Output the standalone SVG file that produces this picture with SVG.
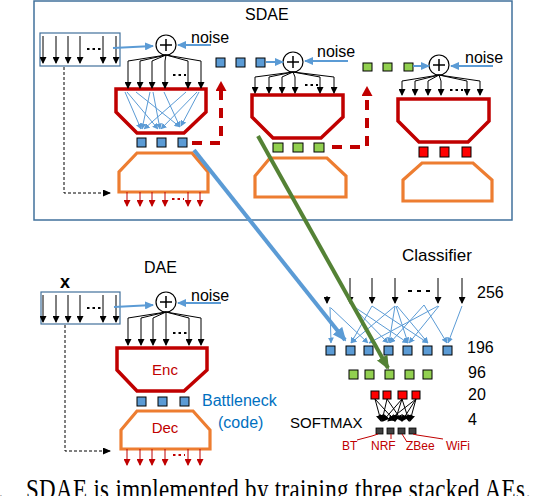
<svg xmlns="http://www.w3.org/2000/svg" width="536" height="496" viewBox="0 0 536 496">
<style>
text{font-family:"Liberation Sans",Arial,sans-serif;fill:#000}
.lbl{font-size:16px}
.enc{fill:none;stroke:#C00000;stroke-width:3.5;stroke-linejoin:miter}
.dec{fill:none;stroke:#ED7D31;stroke-width:3.2}
.sq-b{fill:#5B9BD5;stroke:#000;stroke-width:1}
.sq-g{fill:#92D050;stroke:#000;stroke-width:1}
.sq-r{fill:#FF0000;stroke:#000;stroke-width:1}
.sq-k{fill:#404040;stroke:#000;stroke-width:0.8}
.in{fill:none;stroke:#41719C;stroke-width:1.2}
.ar path,.ar line{stroke:#000;stroke-width:1;fill:none;marker-end:url(#mk)}
.arr line{stroke:#C00000;stroke-width:1;fill:none;marker-end:url(#mr)}
.thin line{stroke:#5B9BD5;stroke-width:1;fill:none;marker-end:url(#mb)}
.na{stroke:#5B9BD5;stroke-width:2;fill:none;marker-end:url(#mbn)}
.sum{fill:#fff;stroke:#000;stroke-width:1.2}
.plus{stroke:#000;stroke-width:1.5}
.dots{stroke:#000;stroke-width:1.8;stroke-dasharray:2.5 3}
.rdots{stroke:#C00000;stroke-width:1.8;stroke-dasharray:2.5 3}
.rdash{fill:none;stroke:#C00000;stroke-width:4;stroke-dasharray:10 8;marker-end:url(#mrd)}
.skip{fill:none;stroke:#000;stroke-width:1;stroke-dasharray:3 2;marker-end:url(#mk2)}
.lead{fill:none;stroke:#C00000;stroke-width:1}
.red{fill:#C00000}
.serif{font-family:"Liberation Serif","Times New Roman",serif}
</style>
<defs>
<marker id="mk" markerUnits="userSpaceOnUse" markerWidth="7" markerHeight="7" refX="6" refY="3.5" orient="auto"><path d="M0,0 L7,3.5 L0,7 Z" fill="#000"/></marker>
<marker id="mk2" markerUnits="userSpaceOnUse" markerWidth="8" markerHeight="7" refX="7" refY="3.5" orient="auto"><path d="M0,0 L8,3.5 L0,7 Z" fill="#000"/></marker>
<marker id="mr" markerUnits="userSpaceOnUse" markerWidth="7" markerHeight="7" refX="6" refY="3.5" orient="auto"><path d="M0,0 L7,3.5 L0,7 Z" fill="#C00000"/></marker>
<marker id="mb" markerUnits="userSpaceOnUse" markerWidth="6" markerHeight="6" refX="5.5" refY="3" orient="auto"><path d="M0,0 L6,3 L0,6 Z" fill="#5B9BD5"/></marker>
<marker id="mbn" markerUnits="userSpaceOnUse" markerWidth="9" markerHeight="8" refX="8" refY="4" orient="auto"><path d="M0,0 L9,4 L0,8 Z" fill="#5B9BD5"/></marker>
<marker id="mrd" markerUnits="userSpaceOnUse" markerWidth="10" markerHeight="11" refX="1" refY="5.5" orient="auto"><path d="M0,0 L10,5.5 L0,11 Z" fill="#C00000"/></marker>
<marker id="mbig" markerUnits="userSpaceOnUse" markerWidth="14" markerHeight="12" refX="12" refY="6" orient="auto"><path d="M0,0 L14,6 L0,12 Z" fill="#5B9BD5"/></marker>
<marker id="mgbig" markerUnits="userSpaceOnUse" markerWidth="14" markerHeight="12" refX="12" refY="6" orient="auto"><path d="M0,0 L14,6 L0,12 Z" fill="#548235"/></marker>
</defs>
<rect width="536" height="496" fill="#fff"/>

<g id="sdae-frame">
<rect x="34" y="1" width="478" height="219" fill="none" stroke="#41719C" stroke-width="1.5"/>
<text class="lbl" x="245" y="20">SDAE</text>
</g>

<!-- AE1 -->
<g id="ae1-input">
<rect class="in" x="40" y="33" width="80" height="33"/>
<g class="ar">
<line x1="43" y1="36" x2="43" y2="63"/><line x1="56" y1="36" x2="56" y2="63"/><line x1="68" y1="36" x2="68" y2="63"/><line x1="80" y1="36" x2="80" y2="63"/><line x1="103" y1="36" x2="103" y2="63"/><line x1="116" y1="36" x2="116" y2="63"/>
</g>
<line class="dots" x1="87" y1="49" x2="101" y2="49"/>
</g>
<g id="ae1-sum">
<circle class="sum" cx="166" cy="45" r="10"/>
<path class="plus" d="M160,45H172M166,39V51"/>
<text class="lbl" x="191" y="43">noise</text>
</g>
<g id="ae1-enc">
<path class="enc" d="M116,89H206V112L184,133H137L116,112Z"/>
</g>
<g id="ae1-code">
<rect class="sq-b" x="137" y="138" width="9" height="9"/>
<rect class="sq-b" x="157" y="138" width="9" height="9"/>
<rect class="sq-b" x="178" y="138" width="9" height="9"/>
</g>
<g id="ae1-dec">
<path class="dec" d="M137,153H192L208,172V192H119V172Z"/>
</g>

<!-- AE2 -->
<g id="ae2-input">
<rect class="sq-b" x="216" y="58" width="9" height="9"/>
<rect class="sq-b" x="236" y="58" width="9" height="9"/>
<rect class="sq-b" x="256" y="58" width="9" height="9"/>
</g>
<g id="ae2-sum">
<circle class="sum" cx="293" cy="62" r="10"/>
<path class="plus" d="M287,62H299M293,56V68"/>
<text class="lbl" x="317" y="57">noise</text>
</g>
<g id="ae2-enc">
<path class="enc" d="M252,95H343V117L321,138H273L252,117Z"/>
</g>
<g id="ae2-code">
<rect class="sq-g" x="273" y="143" width="10" height="9"/>
<rect class="sq-g" x="293" y="143" width="10" height="9"/>
<rect class="sq-g" x="314" y="143" width="10" height="9"/>
</g>
<g id="ae2-dec">
<path class="dec" d="M270,158H327L346,176V197H255V176Z"/>
</g>

<!-- AE3 -->
<g id="ae3-input">
<rect class="sq-g" x="363" y="63" width="9" height="8"/>
<rect class="sq-g" x="383" y="63" width="9" height="8"/>
<rect class="sq-g" x="404" y="63" width="9" height="8"/>
</g>
<g id="ae3-sum">
<circle class="sum" cx="439" cy="65" r="10"/>
<path class="plus" d="M433,65H445M439,59V71"/>
<text class="lbl" x="465" y="63">noise</text>
</g>
<g id="ae3-enc">
<path class="enc" d="M398,99H489V121L468,142H419L398,121Z"/>
</g>
<g id="ae3-code">
<rect class="sq-r" x="419" y="147" width="9" height="10"/>
<rect class="sq-r" x="440" y="147" width="9" height="10"/>
<rect class="sq-r" x="462" y="147" width="9" height="10"/>
</g>
<g id="ae3-dec">
<path class="dec" d="M422,163H473L492,180V201H403V180Z"/>
</g>

<!-- DAE -->
<g id="dae-title"><text class="lbl" x="144" y="273">DAE</text></g>
<g id="dae-input">
<text x="60" y="288" font-size="18" font-weight="bold">x</text>
<rect class="in" x="41" y="292" width="79" height="32"/>
<g class="ar">
<line x1="43" y1="295" x2="43" y2="322"/><line x1="56" y1="295" x2="56" y2="322"/><line x1="68" y1="295" x2="68" y2="322"/><line x1="80" y1="295" x2="80" y2="322"/><line x1="103" y1="295" x2="103" y2="322"/><line x1="116" y1="295" x2="116" y2="322"/>
</g>
<line class="dots" x1="87" y1="308" x2="101" y2="308"/>
</g>
<g id="dae-sum">
<circle class="sum" cx="166" cy="302" r="10"/>
<path class="plus" d="M160,302H172M166,296V308"/>
<text class="lbl" x="191" y="301">noise</text>
</g>
<g id="dae-enc">
<path class="enc" d="M117,348H207V370L184,391H137L117,370Z"/>
<text x="165" y="375" font-size="15" text-anchor="middle" class="red">Enc</text>
</g>
<g id="dae-code">
<rect class="sq-b" x="137" y="397" width="9" height="9"/>
<rect class="sq-b" x="158" y="397" width="9" height="9"/>
<rect class="sq-b" x="180" y="397" width="9" height="9"/>
<text x="202" y="406" font-size="16" style="fill:#0070C0">Battleneck</text>
<text x="218" y="428" font-size="16" style="fill:#0070C0">(code)</text>
</g>
<g id="dae-dec">
<path class="dec" d="M137,411H193L210,430V449H121V430Z"/>
<text x="165" y="433" font-size="15" text-anchor="middle" class="red">Dec</text>
</g>

<!-- Classifier -->
<g id="clf-title"><text x="402" y="261" font-size="17">Classifier</text></g>
<g id="clf-256">
<g class="ar">
<line x1="327" y1="296" x2="327" y2="303"/><line x1="350" y1="278" x2="350" y2="303"/><line x1="372" y1="278" x2="372" y2="303"/><line x1="395" y1="278" x2="395" y2="303"/><line x1="438" y1="278" x2="438" y2="303"/><line x1="462" y1="278" x2="462" y2="303"/>
</g>
<line class="dots" x1="408" y1="291" x2="434" y2="291" style="stroke-width:2.2;stroke-dasharray:4 5"/>
<text class="lbl" x="477" y="298">256</text>
</g>
<g id="clf-196">
<rect class="sq-b" x="326" y="346" width="9" height="9"/>
<rect class="sq-b" x="346" y="346" width="9" height="9"/>
<rect class="sq-b" x="364" y="346" width="9" height="9"/>
<rect class="sq-b" x="384" y="346" width="9" height="9"/>
<rect class="sq-b" x="403" y="346" width="9" height="9"/>
<rect class="sq-b" x="423" y="346" width="9" height="9"/>
<rect class="sq-b" x="443" y="346" width="9" height="9"/>
<text class="lbl" x="467" y="353">196</text>
</g>
<g id="clf-96">
<rect class="sq-g" x="349" y="370" width="9" height="9"/>
<rect class="sq-g" x="365" y="370" width="9" height="9"/>
<rect class="sq-g" x="385" y="370" width="9" height="9"/>
<rect class="sq-g" x="405" y="370" width="9" height="9"/>
<rect class="sq-g" x="423" y="370" width="9" height="9"/>
<text class="lbl" x="468" y="378">96</text>
</g>
<g id="clf-20">
<rect class="sq-r" x="371" y="391" width="8" height="8"/>
<rect class="sq-r" x="383" y="391" width="8" height="8"/>
<rect class="sq-r" x="398" y="391" width="9" height="8"/>
<rect class="sq-r" x="412" y="391" width="8" height="8"/>
<text class="lbl" x="468" y="400">20</text>
</g>
<g id="clf-softmax">
<text x="290" y="428" font-size="15">SOFTMAX</text>
<text class="lbl" x="468" y="425">4</text>
<rect class="sq-k" x="376" y="428" width="7" height="6"/>
<rect class="sq-k" x="387" y="428" width="7" height="6"/>
<rect class="sq-k" x="398" y="428" width="7" height="6"/>
<rect class="sq-k" x="409" y="428" width="7" height="6"/>
</g>
<g id="clf-labels">
<text x="342" y="450" font-size="12" class="red">BT</text>
<text x="371" y="450" font-size="12" class="red">NRF</text>
<text x="406" y="450" font-size="12" class="red">ZBee</text>
<text x="446" y="450" font-size="12" class="red">WiFi</text>
<path class="lead" d="M357,440L372,436L378,434M391,439V434M407,442L402,434M443,439L430,437L417,435L413,434"/>
</g>

<g id="caption" transform="scale(1,1.25)">
<text class="serif" x="-2" y="399.5" font-size="23">.</text>
<text class="serif" x="26" y="399.5" font-size="23" textLength="505" lengthAdjust="spacing">SDAE is implemented by training three stacked AEs.</text>
</g>

<g id="connectors">
<!-- AE1 -->
<path class="na" d="M113,48L153,46"/>
<path class="na" d="M211,45L178,45"/>
<g class="ar">
<path d="M166,55L128,61V88"/><path d="M166,55L140,61V88"/><path d="M166,55L152,61V88"/><path d="M166,55L165,61V88"/><path d="M166,55L188,61V88"/><path d="M166,55L201,61V88"/>
</g>
<line class="dots" x1="173" y1="75" x2="186" y2="75"/>
<g class="thin">
<line x1="125" y1="92" x2="141" y2="129"/><line x1="127" y1="92" x2="158" y2="129"/><line x1="136" y1="92" x2="180" y2="127"/><line x1="150" y1="92" x2="142" y2="129"/><line x1="153" y1="92" x2="160" y2="129"/><line x1="164" y1="92" x2="180" y2="127"/><line x1="186" y1="92" x2="144" y2="129"/><line x1="197" y1="92" x2="161" y2="129"/><line x1="199" y1="92" x2="181" y2="126"/>
</g>
<path class="rdash" d="M192,143H221V90"/>
<g class="arr">
<line x1="127" y1="192" x2="127" y2="206"/><line x1="140" y1="192" x2="140" y2="206"/><line x1="152" y1="192" x2="152" y2="206"/><line x1="165" y1="192" x2="165" y2="206"/><line x1="188" y1="192" x2="188" y2="206"/><line x1="200" y1="192" x2="200" y2="206"/>
</g>
<line class="rdots" x1="172" y1="199" x2="184" y2="199"/>
<path class="skip" d="M64,67V193H110"/>
<!-- AE2 -->
<path class="na" d="M266,62L283,62"/>
<path class="na" d="M348,61L305,61"/>
<g class="ar">
<path d="M293,72L255,77V93"/><path d="M293,72L269,77V93"/><path d="M293,72L282,77V93"/><path d="M293,72L295,77V93"/><path d="M293,72L320,77V93"/><path d="M293,72L334,77V93"/>
</g>
<line class="dots" x1="305" y1="85" x2="318" y2="85"/>
<path class="rdash" d="M332,147H367V95"/>
<!-- AE3 -->
<path class="na" d="M413,66L429,66"/>
<path class="na" d="M493,66L451,66"/>
<g class="ar">
<path d="M439,75L402,81V95"/><path d="M439,75L415,81V95"/><path d="M439,75L428,81V95"/><path d="M439,75L441,81V95"/><path d="M439,75L467,81V95"/><path d="M439,75L480,81V95"/>
</g>
<line class="dots" x1="450" y1="90" x2="463" y2="90"/>
<!-- DAE -->
<path class="na" d="M114,307L153,305"/>
<path class="na" d="M221,303L178,303"/>
<g class="ar">
<path d="M166,312L128,318V345"/><path d="M166,312L141,318V345"/><path d="M166,312L153,318V345"/><path d="M166,312L166,318V345"/><path d="M166,312L189,318V345"/><path d="M166,312L201,318V345"/>
</g>
<line class="dots" x1="173" y1="333" x2="187" y2="333"/>
<g class="arr">
<line x1="127" y1="449" x2="127" y2="465"/><line x1="140" y1="449" x2="140" y2="465"/><line x1="152" y1="449" x2="152" y2="465"/><line x1="165" y1="449" x2="165" y2="465"/><line x1="188" y1="449" x2="188" y2="465"/><line x1="200" y1="449" x2="200" y2="465"/>
</g>
<line class="rdots" x1="173" y1="455" x2="185" y2="455"/>
<path class="skip" d="M65,325V451H110"/>
<!-- Classifier fan -->
<g class="thin">
<line x1="330" y1="307" x2="331" y2="343"/><line x1="331" y1="308" x2="368" y2="343"/><line x1="352" y1="306" x2="388" y2="343"/><line x1="353" y1="306" x2="408" y2="343"/><line x1="372" y1="306" x2="351" y2="343"/><line x1="395" y1="306" x2="351" y2="343"/><line x1="395" y1="306" x2="389" y2="343"/><line x1="396" y1="306" x2="408" y2="343"/><line x1="397" y1="306" x2="428" y2="343"/><line x1="424" y1="305" x2="447" y2="343"/><line x1="424" y1="305" x2="390" y2="343"/><line x1="438" y1="306" x2="369" y2="343"/><line x1="439" y1="306" x2="409" y2="343"/><line x1="462" y1="306" x2="448" y2="343"/><line x1="372" y1="306" x2="428" y2="343"/>
</g>
<g class="ar">
<line x1="375" y1="399" x2="381" y2="421"/><line x1="375" y1="399" x2="395" y2="421"/><line x1="387" y1="399" x2="382" y2="421"/><line x1="387" y1="399" x2="402" y2="421"/><line x1="402" y1="399" x2="383" y2="421"/><line x1="402" y1="399" x2="395" y2="421"/><line x1="402" y1="399" x2="409" y2="421"/><line x1="416" y1="399" x2="388" y2="421"/><line x1="416" y1="399" x2="402" y2="421"/><line x1="416" y1="399" x2="410" y2="421"/>
</g>
<!-- thick links -->
<path d="M194,150L345,340" stroke="#5B9BD5" stroke-width="4" fill="none" marker-end="url(#mbig)"/>
<path d="M258,136L388,368" stroke="#548235" stroke-width="4" fill="none" marker-end="url(#mgbig)"/>
</g>
</svg>
